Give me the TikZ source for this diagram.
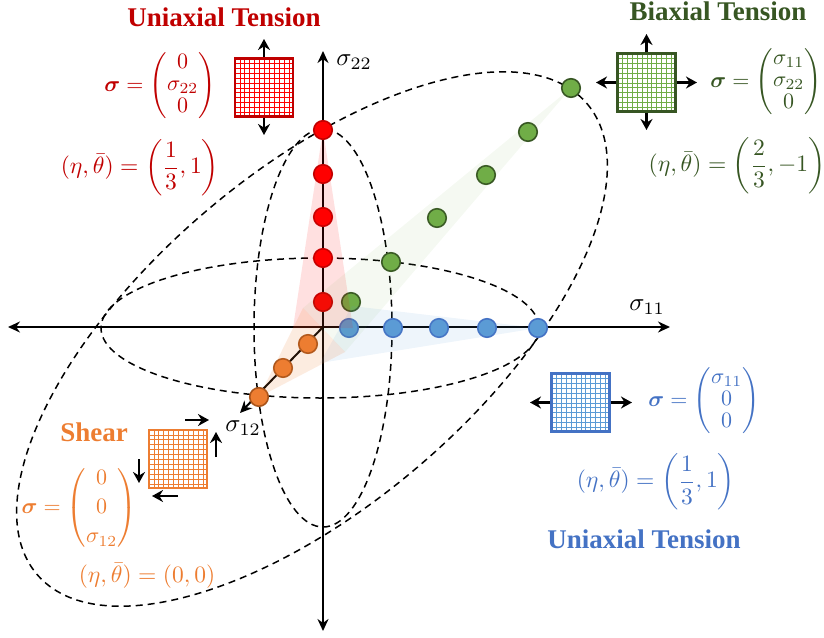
\documentclass[tikz,border=0pt]{standalone}
\definecolor{SRed}{HTML}{C00000}
\definecolor{SRedFill}{HTML}{FF0000}
\definecolor{SGreen}{HTML}{375623}
\definecolor{SGreenFill}{HTML}{70AD47}
\definecolor{SBlue}{HTML}{4472C4}
\definecolor{SBlueFill}{HTML}{5B9BD5}
\definecolor{SOrange}{HTML}{ED7D31}
\definecolor{SBrown}{HTML}{A9541A}
\usepackage{amsmath,amssymb}
\usepackage{fontspec}
\newfontfamily\titlefont{Liberation Serif}
\usepackage{tikz}
\usetikzlibrary{arrows.meta,calc}
\tikzset{
  axisline/.style={line width=2pt,{Stealth[length=12pt,width=11pt]}-{Stealth[length=12pt,width=11pt]}},
  loadarrow/.style={line width=2.2pt,-{Stealth[length=11pt,width=12pt]}},
  yieldline/.style={black,line width=1.5pt,dash pattern=on 7pt off 5pt},
  statedot/.style={circle,draw=#1,line width=1.6pt,minimum size=18.5pt,inner sep=0pt},
  gridbox/.style 2 args={rectangle,draw=#2,line width=2.4pt,fill=white,minimum size=58pt,inner sep=0pt,
    path picture={
      \foreach \k in {1,...,11}{
        \draw[#1,line width=0.8pt]
          ($(path picture bounding box.north west)+(\k*4.9,0)$) -- ++(0,62);
        \draw[#1,line width=0.8pt]
          ($(path picture bounding box.north west)+(0,\k*4.9)$) -- ++(62,0);
      }
    }},
  titlelabel/.style={font=\titlefont\bfseries\fontsize{27}{29}\selectfont,text=#1},
  formula/.style={scale=2.2,text=#1,inner sep=0pt},
  etaformula/.style={scale=2.35,text=#1,inner sep=0pt},
  axislabel/.style={scale=2.5,inner sep=0pt},
}
\renewcommand{\arraystretch}{0.85}
\begin{document}
\begin{tikzpicture}[x=1pt,y=-1pt]
  \useasboundingbox (0,0) rectangle (824,637);
  % axes
  \coordinate (xleft) at (8,327);
  \coordinate (xright) at (670,327);
  \coordinate (ytop) at (323,51);
  \coordinate (ybottom) at (323,631);
  \coordinate (origin) at (323,327);
  \coordinate (shearend) at (240,413);
  % yield surfaces
  \draw[yieldline] (320,328) ellipse [x radius=219,y radius=70];
  \draw[yieldline] (323,328) ellipse [x radius=69,y radius=199];
  \draw[yieldline,rotate around={40.6:(312,339)}] (312,339) ellipse [x radius=362,y radius=166];
  \draw[axisline] (xleft) -- (xright);
  \draw[axisline] (ytop) -- (ybottom);
  \draw[line width=2pt,-{Stealth[length=12pt,width=11pt]}] (origin) -- (shearend);
  \node[axislabel] (s22) at (354,62) {$\sigma_{22}$};
  \node[axislabel] (s11) at (647,307) {$\sigma_{11}$};
  \node[axislabel] (s12) at (243,428) {$\sigma_{12}$};
  % load states
  \foreach \x/\y [count=\i] in {323/130,323/174,323/217,323/258,323/302}
    \node[statedot=SRed,fill=SRedFill] (red\i) at (\x,\y) {};
  \foreach \x/\y [count=\i] in {571/88,528/132,486/175,437/218,391/262,351/302}
    \node[statedot=SGreen,fill=SGreenFill] (green\i) at (\x,\y) {};
  \foreach \x/\y [count=\i] in {349/328,393/328,439/328,487/328,538/328}
    \node[statedot=SBlue,fill=SBlueFill] (blue\i) at (\x,\y) {};
  \foreach \x/\y [count=\i] in {308/344,283/368,259/397}
    \node[statedot=SBrown,fill=SOrange] (orange\i) at (\x,\y) {};
  % shaded bands
  \fill[SRedFill,opacity=0.12] (323,130) -- (293,328) -- (353,328) -- cycle;
  \fill[SGreenFill,opacity=0.07] (571,88) -- (303,308) -- (345,352) -- cycle;
  \fill[SBlueFill,opacity=0.10] (538,328) -- (352,306) -- (320,363) -- cycle;
  \fill[SOrange,opacity=0.15] (259,397) -- (303,308) -- (345,352) -- cycle;
  % red box
  \node[gridbox={SRedFill}{SRed}] (boxred) at (264,87.5) {};
  \coordinate (redup) at (264,39);
  \coordinate (reddown) at (264,135);
  \draw[loadarrow] (boxred.north) -- (redup);
  \draw[loadarrow] (boxred.south) -- (reddown);
  \node[titlelabel=SRed] (titlered) at (224,17) {Uniaxial Tension};
  \node[formula=SRed] (sigred) at (160,86) {$\boldsymbol{\sigma}=\begin{pmatrix}0\\\sigma_{22}\\0\end{pmatrix}$};
  \node[etaformula=SRed] (etared) at (140,168) {$(\eta,\bar{\theta})=\left(\dfrac{1}{3},1\right)$};
  % green box
  \node[gridbox={SGreenFill}{SGreen}] (boxgreen) at (646.5,82.5) {};
  \coordinate (greenup) at (646.5,34);
  \coordinate (greendown) at (646.5,130);
  \coordinate (greenleft) at (596,82.5);
  \coordinate (greenright) at (697,82.5);
  \draw[loadarrow] (boxgreen.north) -- (greenup);
  \draw[loadarrow] (boxgreen.south) -- (greendown);
  \draw[loadarrow] (boxgreen.west) -- (greenleft);
  \draw[loadarrow] (boxgreen.east) -- (greenright);
  \node[titlelabel=SGreen] (titlegreen) at (718,11) {Biaxial Tension};
  \node[formula=SGreen] (siggreen) at (766,82) {$\boldsymbol{\sigma}=\begin{pmatrix}\sigma_{11}\\\sigma_{22}\\0\end{pmatrix}$};
  \node[etaformula=SGreen] (etagreen) at (737,166) {$(\eta,\bar{\theta})=\left(\dfrac{2}{3},-1\right)$};
  % blue box
  \node[gridbox={SBlueFill}{SBlue}] (boxblue) at (580.5,402.5) {};
  \coordinate (blueleft) at (530,402.5);
  \coordinate (blueright) at (632,402.5);
  \draw[loadarrow] (boxblue.west) -- (blueleft);
  \draw[loadarrow] (boxblue.east) -- (blueright);
  \node[formula=SBlue] (sigblue) at (704,401) {$\boldsymbol{\sigma}=\begin{pmatrix}\sigma_{11}\\0\\0\end{pmatrix}$};
  \node[etaformula=SBlue] (etablue) at (656,482) {$(\eta,\bar{\theta})=\left(\dfrac{1}{3},1\right)$};
  \node[titlelabel=SBlue] (titleblue) at (644,539) {Uniaxial Tension};
  % orange box
  \node[gridbox={SOrange}{SOrange}] (boxorange) at (178,459) {};
  \coordinate (shtopa) at (185,420);
  \coordinate (shtopb) at (209,420);
  \coordinate (shrighta) at (216,457);
  \coordinate (shrightb) at (216,432);
  \coordinate (shbota) at (178,496);
  \coordinate (shbotb) at (152,496);
  \coordinate (shlefta) at (139,459);
  \coordinate (shleftb) at (139,483);
  \draw[loadarrow] (shtopa) -- (shtopb);
  \draw[loadarrow] (shrighta) -- (shrightb);
  \draw[loadarrow] (shbota) -- (shbotb);
  \draw[loadarrow] (shlefta) -- (shleftb);
  \node[titlelabel=SOrange] (titleorange) at (94,432) {Shear};
  \node[formula=SOrange] (sigorange) at (79,508) {\renewcommand{\arraystretch}{1.1}$\boldsymbol{\sigma}=\begin{pmatrix}0\\0\\\sigma_{12}\end{pmatrix}$};
  \node[etaformula=SOrange] (etaorange) at (147,576) {$(\eta,\bar{\theta})=(0,0)$};
\end{tikzpicture}
\end{document}
